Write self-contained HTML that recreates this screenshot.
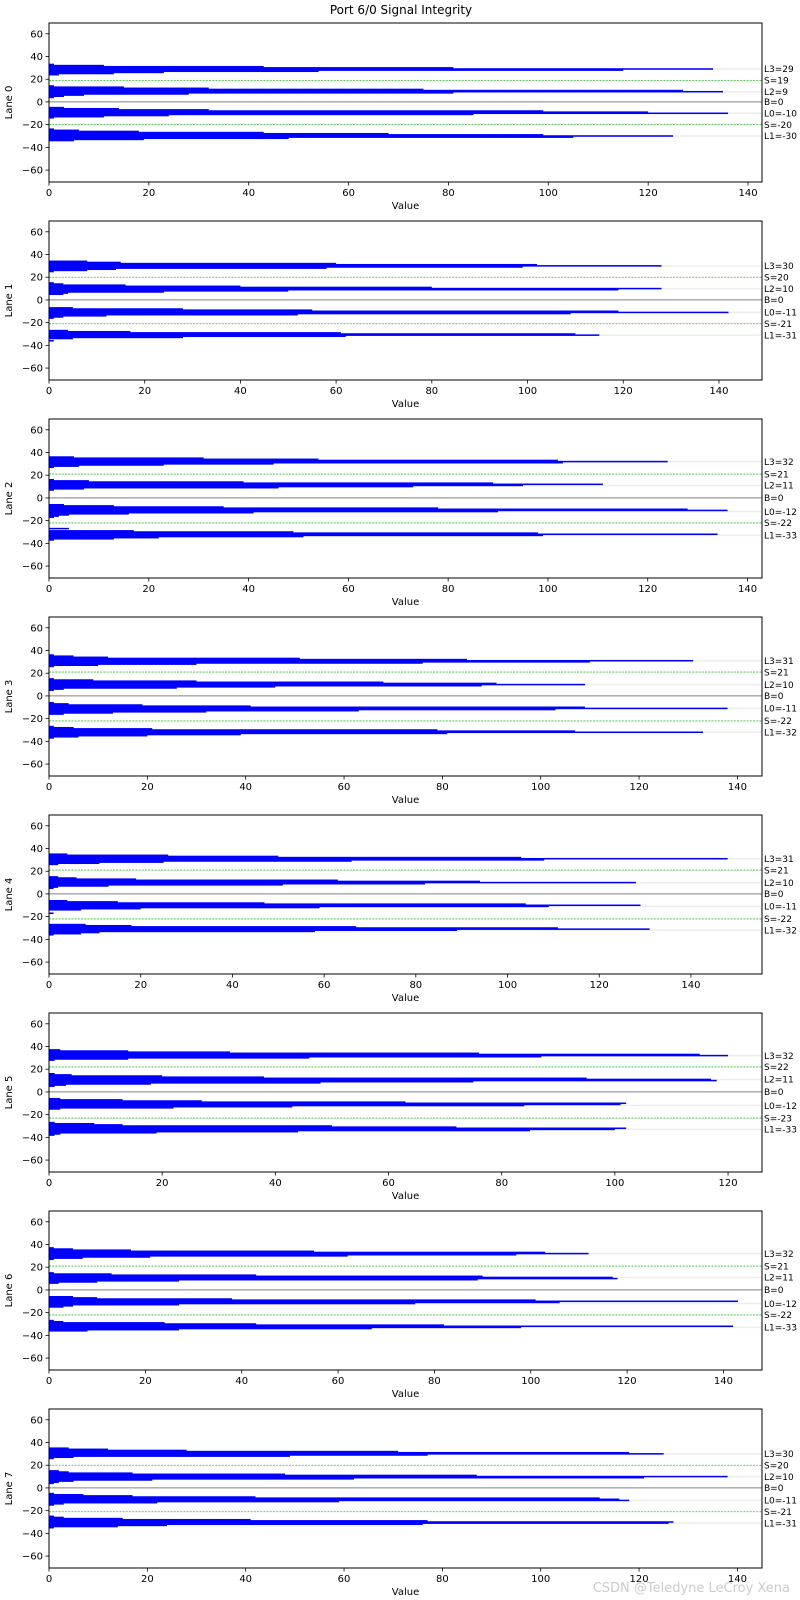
<!DOCTYPE html>
<html><head><meta charset="utf-8"><style>
body{margin:0;background:#fff;}
svg{display:block;font-family:"DejaVu Sans","Liberation Sans",sans-serif;}
</style></head><body>
<svg id="fig" width="800" height="1600" viewBox="0 0 800 1600">
<text x="401" y="14" font-size="12" text-anchor="middle">Port 6/0 Signal Integrity</text>
<text x="790" y="1592" font-size="13" fill="#ccc" text-anchor="end">CSDN @Teledyne LeCroy Xena</text>
</svg>
<script>
const laneNames = ["Lane 0","Lane 1","Lane 2","Lane 3","Lane 4","Lane 5","Lane 6","Lane 7"];
const laneXMax = [142.8,149,142.9,145,155.5,126,148,145];
const laneLevels = [[29,9,-10,-30],[30,10,-11,-31],[32,11,-12,-33],[31,10,-11,-32],[31,10,-11,-32],[32,11,-12,-33],[32,11,-12,-33],[30,10,-11,-31]];
const laneSep = [[19,-20],[20,-21],[21,-22],[21,-22],[21,-22],[22,-23],[21,-22],[20,-21]];
const yTicks = [60,40,20,0,-20,-40,-60];
// each group: top y level, then values going downward one unit per bar
const bins0 = [{top:33,v:[1,11,43,81,133,115,54,23,13,2]},{top:14,v:[1,15,32,75,127,135,81,28,7,3,1]},{top:-5,v:[3,14,32,99,120,136,85,24,11,1]},{top:-24,v:[1,6,18,43,68,99,125,105,48,19,5]}];
const bins1 = [{top:34,v:[8,15,60,102,128,99,58,14,8,1]},{top:15,v:[1,3,16,40,80,128,119,50,24,4,3]},{top:-7,v:[5,28,55,119,142,109,52,12,3,1]},{top:-27,v:[4,17,61,110,115,62,28,5,0,1]}];
const bins2 = [{top:36,v:[5,31,54,102,124,103,45,23,6,1]},{top:16,v:[1,8,39,89,111,95,73,46,7,1]},{top:-6,v:[3,13,35,78,128,136,90,41,16,4,2,1]},{top:-27,v:[4,0,17,49,98,134,99,51,22,13,1]}];
const bins3 = [{top:36,v:[1,5,12,51,85,131,110,76,30,10,1]},{top:15,v:[1,9,30,68,91,109,88,46,26,3,1]},{top:-6,v:[1,4,19,41,109,138,103,63,32,13,3]},{top:-27,v:[1,5,21,79,107,133,81,39,20,6,1]}];
const bins4 = [{top:35,v:[4,26,50,103,148,108,66,25,11,2]},{top:15,v:[2,6,19,63,94,128,82,51,13,2,1]},{top:-6,v:[4,15,47,104,129,109,59,20,7,0,0,1]},{top:-27,v:[8,18,67,111,131,89,58,11,7,1]}];
const bins5 = [{top:37,v:[2,14,32,76,115,120,87,46,14,1]},{top:16,v:[1,4,20,38,95,117,118,75,48,18,3,1]},{top:-6,v:[2,13,27,63,102,101,84,43,22,2]},{top:-27,v:[1,8,13,50,72,102,100,85,44,19,2,1]}];
const bins6 = [{top:37,v:[1,5,17,55,103,112,97,62,21,7,1]},{top:15,v:[1,13,43,90,117,118,89,27,10,2]},{top:-6,v:[5,10,38,101,143,106,76,27,5,3]},{top:-27,v:[1,3,24,43,82,142,98,67,27,8]}];
const bins7 = [{top:35,v:[4,12,28,71,118,125,77,49,5,1]},{top:15,v:[2,4,17,48,87,138,121,62,21,5,2,1]},{top:-5,v:[1,7,17,42,112,116,118,59,22,3,1]},{top:-25,v:[1,3,15,41,77,127,126,76,24,14,1]}];
const laneBins = [bins0,bins1,bins2,bins3,bins4,bins5,bins6,bins7];

const NS = "http://www.w3.org/2000/svg";
const fig = document.getElementById("fig");
const L = 49, R = 762, H = 159, YMAX = 69.5, YMIN = -70.5;
function mk(tag, attrs, parent){const e=document.createElementNS(NS,tag);for(const k in attrs)e.setAttribute(k,attrs[k]);(parent||fig).appendChild(e);return e;}
function fmt(v){return v<0?"\u2212"+Math.abs(v):String(v);}

for(let i=0;i<8;i++){
  const top = 23 + 198*i;
  const xmax = laneXMax[i];
  const xs = v => L + v/xmax*(R-L);
  const ys = v => top + (YMAX - v)/(YMAX-YMIN)*H;
  const g = mk("g",{});
  
  
  laneLevels[i].forEach(lv=>{
    const ln = mk("line",{x1:L,x2:R,y1:ys(lv),y2:ys(lv),stroke:"#eee","stroke-width":1.5},g);
    
    
  });
  const bg = mk("g",{"shape-rendering":"geometricPrecision"},g);
  
  
  laneBins[i].forEach(grp=>{
    grp.v.forEach((val,k)=>{
      if(val<=0) return;
      const yl = grp.top - k;
      const y1 = ys(yl+0.5), y2 = ys(yl-0.5);
      const r = mk("rect",{x:L,y:y1-0.2,width:xs(val)-L,height:(y2-y1)+0.4,fill:"#0000ff"},bg);
      
      
    });
  });
  laneSep[i].forEach(s=>{
    const ln = mk("line",{x1:L,x2:R,y1:ys(s),y2:ys(s),stroke:"#33bb33","stroke-width":0.8,"stroke-dasharray":"2,1.2"},g);
    
    
  });
  const bl = mk("line",{x1:L,x2:R,y1:ys(0),y2:ys(0),stroke:"#808080","stroke-width":1},g);
  
  
  const fr = mk("rect",{x:L,y:top,width:R-L,height:H,fill:"none",stroke:"#000","stroke-width":1},g);
  
  
  yTicks.forEach(t=>{
    mk("line",{x1:L-3.5,x2:L,y1:ys(t),y2:ys(t),stroke:"#000","stroke-width":0.8},g);
    const tx = mk("text",{x:L-6,y:ys(t)+3.5,"font-size":10,"text-anchor":"end"},g);
    tx.textContent = fmt(t);
    
    
  });
  for(let t=0;t<=xmax;t+=20){
    mk("line",{x1:xs(t),x2:xs(t),y1:top+H,y2:top+H+3.5,stroke:"#000","stroke-width":0.8},g);
    const tx = mk("text",{x:xs(t),y:top+H+14,"font-size":10,"text-anchor":"middle"},g);
    tx.textContent = String(t);
    
    
  }
  const xl = mk("text",{x:(L+R)/2,y:top+H+27,"font-size":10,"text-anchor":"middle"},g);
  xl.textContent = "Value";
  
  
  const yl = mk("text",{x:0,y:0,"font-size":10,"text-anchor":"middle",transform:"translate(12,"+(top+H/2)+") rotate(-90)"},g);
  yl.textContent = laneNames[i];
  
  
  const lv = laneLevels[i], sp = laneSep[i];
  const labels = [["L3="+lv[0],lv[0]],["S="+sp[0],sp[0]],["L2="+lv[1],lv[1]],["B=0",0],["L0="+lv[2],lv[2]],["S="+sp[1],sp[1]],["L1="+lv[3],lv[3]]];
  labels.forEach(([txt,v])=>{
    const tx = mk("text",{x:R+2,y:ys(v)+3.2,"font-size":9},g);
    tx.textContent = txt;
    
    
  });
}
</script>
</body></html>
